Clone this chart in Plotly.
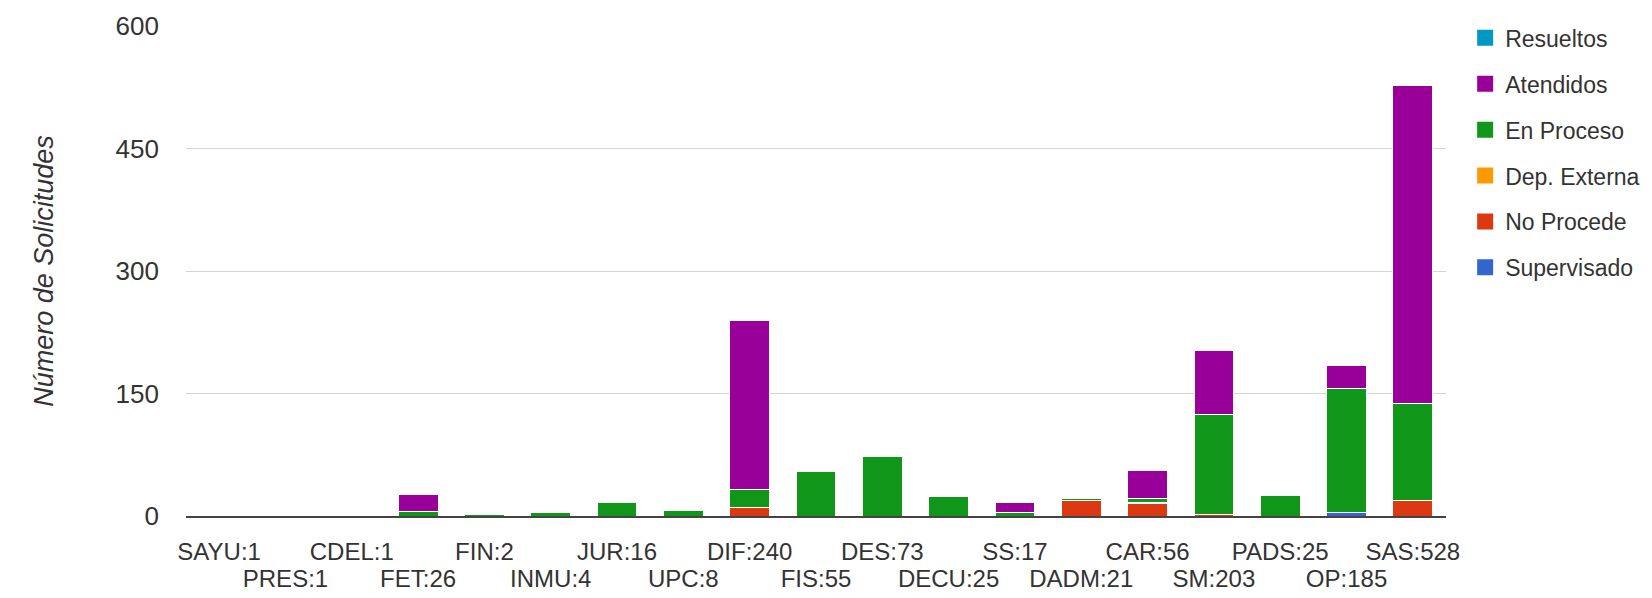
import plotly.graph_objects as go

categories = ["SAYU", "PRES", "CDEL", "FET", "FIN", "INMU", "JUR", "UPC", "DIF", "FIS",
              "DES", "DECU", "SS", "DADM", "CAR", "SM", "PADS", "OP", "SAS"]
tick_labels = ["SAYU:1", "PRES:1", "CDEL:1", "FET:26", "FIN:2", "INMU:4", "JUR:16", "UPC:8",
               "DIF:240", "FIS:55", "DES:73", "DECU:25", "SS:17", "DADM:21", "CAR:56",
               "SM:203", "PADS:25", "OP:185", "SAS:528"]

supervisado = [0, 0, 0, 0, 0, 0, 0, 0, 0, 0, 0, 0, 0, 0, 0, 0, 0, 4, 0]
no_procede  = [0, 0, 0, 0, 0, 0, 0, 0, 11, 0, 0, 0, 0, 19, 15, 2, 0, 0, 19]
dep_externa = [0, 0, 0, 0, 0, 0, 0, 0, 0, 0, 0, 0, 0, 0, 2, 0, 0, 0, 0]
en_proceso  = [0, 0, 0, 6, 2, 4, 16, 7, 22, 55, 73, 24, 4, 2, 4, 122, 25, 152, 119]
atendidos   = [1, 1, 1, 20, 0, 0, 0, 1, 207, 0, 0, 1, 13, 0, 35, 79, 0, 29, 390]
resueltos   = [0] * 19

series_names = ["Supervisado", "No Procede", "Dep. Externa", "En Proceso", "Atendidos", "Resueltos"]
series_vals = [supervisado, no_procede, dep_externa, en_proceso, atendidos, resueltos]
series_colors = ["#3366CC", "#DC3912", "#FF9900", "#109618", "#990099", "#0099C6"]

FONT = "Liberation Sans, Arial, sans-serif"
TXT = "#333333"

fig = go.Figure()

# legend entries (top to bottom: Resueltos ... Supervisado)
for name, color in reversed(list(zip(series_names, series_colors))):
    fig.add_trace(go.Scatter(
        x=[None], y=[None], mode="markers", name=name, legendgroup=name,
        marker=dict(symbol="square", size=16, color=color, line=dict(color="white", width=0)),
        showlegend=True, hoverinfo="skip"))

for name, vals, color in zip(series_names, series_vals, series_colors):
    fig.add_trace(go.Bar(
        x=categories, y=[v if v else None for v in vals], name=name, legendgroup=name,
        marker=dict(color=color, line=dict(color="white", width=1)),
        showlegend=False))

# invisible helper so the second (staggered) label row axis is drawn
fig.add_trace(go.Scatter(x=[0, len(categories) - 1], y=[None, None], xaxis="x2", yaxis="y",
                         mode="markers", marker=dict(opacity=0), showlegend=False,
                         hoverinfo="skip"))

fig.update_layout(
    width=1644, height=590,
    margin=dict(l=178, r=206, t=18, b=82, autoexpand=False),
    paper_bgcolor="white", plot_bgcolor="white",
    barmode="stack", bargap=0.4,
    font=dict(family=FONT, size=24, color=TXT),
    legend=dict(x=1.0152, xanchor="left", y=1.0196, yanchor="top",
                traceorder="grouped", tracegroupgap=13,
                font=dict(family=FONT, size=23, color=TXT),
                bgcolor="rgba(0,0,0,0)"),
    xaxis=dict(type="category", categoryorder="array", categoryarray=categories,
               tickmode="array", tickvals=categories[::2], ticktext=tick_labels[::2],
               tickangle=0, showgrid=False, ticks="", ticklabelstandoff=13,
               tickfont=dict(family=FONT, size=24, color=TXT),
               showline=True, linecolor="#444444", linewidth=2),
    xaxis2=dict(overlaying="x", anchor="y", side="bottom", range=[-0.5, 18.5],
                tickmode="array", tickvals=list(range(1, 19, 2)), ticktext=tick_labels[1::2],
                tickangle=0, showgrid=False, zeroline=False, ticks="", ticklabelstandoff=46,
                tickfont=dict(family=FONT, size=24, color=TXT), showline=False),
    yaxis=dict(range=[0, 600.4], tickmode="linear", tick0=0, dtick=150,
               showgrid=True, gridcolor="#d4d4d4", gridwidth=1,
               zeroline=False, ticks="", ticklabelstandoff=26,
               tickfont=dict(family=FONT, size=26, color=TXT),
               title=dict(text="Número de Solicitudes", standoff=54,
                          font=dict(family=FONT, size=27, color=TXT, style="italic"))),
)

fig.write_html("out.html")
